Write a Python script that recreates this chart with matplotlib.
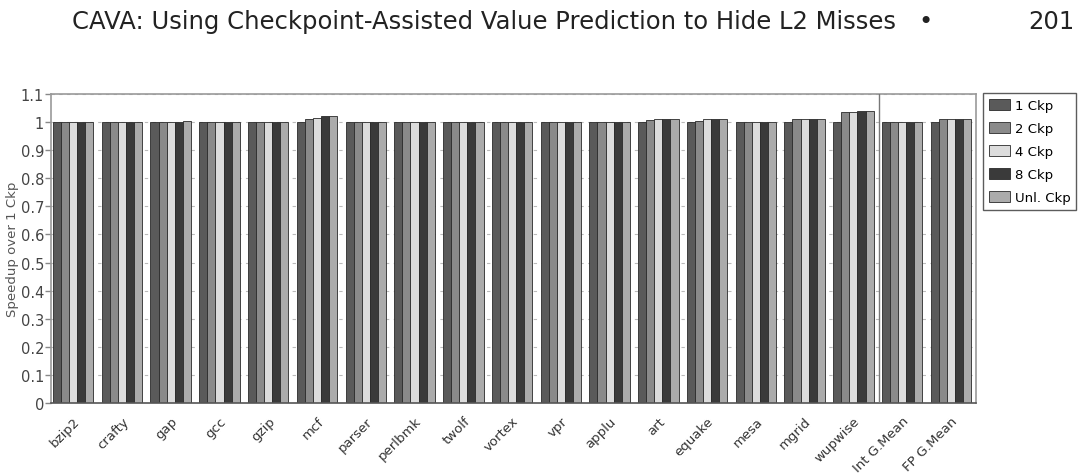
import numpy as np
import matplotlib
matplotlib.use("Agg")
import matplotlib.pyplot as plt

plt.rcParams['font.family'] = ['DejaVu Sans']

benchmarks = ['bzip2', 'crafty', 'gap', 'gcc', 'gzip', 'mcf', 'parser', 'perlbmk',
              'twolf', 'vortex', 'vpr', 'applu', 'art', 'equake', 'mesa', 'mgrid',
              'wupwise', 'Int G.Mean', 'FP G.Mean']
series = ['1 Ckp', '2 Ckp', '4 Ckp', '8 Ckp', 'Unl. Ckp']

ckp1 = [1.0, 1.0, 1.0, 1.0, 1.0, 1.0, 1.0, 1.0, 1.0, 1.0, 1.0, 1.0, 1.0, 1.0, 1.0, 1.0, 1.0, 1.0, 1.0]
ckp2 = [1.0, 1.0, 1.0, 1.0, 1.0, 1.012, 1.001, 1.0, 1.0, 1.0, 1.002, 1.0, 1.008, 1.005, 1.0, 1.012, 1.035, 1.002, 1.01]
ckp4 = [1.0, 1.0, 1.002, 1.0, 1.0, 1.016, 1.0, 1.0, 1.0, 1.0, 1.001, 1.0, 1.01, 1.01, 1.0, 1.012, 1.035, 1.002, 1.01]
ckp8 = [1.0, 1.0, 1.002, 1.0, 1.002, 1.02, 1.0, 1.0, 1.0, 1.0, 1.0, 1.0, 1.01, 1.011, 1.0, 1.012, 1.038, 1.002, 1.01]
ckpU = [1.0, 1.0, 1.003, 1.0, 1.0, 1.02, 1.0, 1.0, 1.0, 1.0, 1.0, 1.0, 1.01, 1.011, 1.0, 1.012, 1.038, 1.002, 1.012]

colors = ['#5a5a5a', '#8a8a8a', '#dcdcdc', '#3a3a3a', '#ababab']

fig = plt.figure(figsize=(10.8, 4.77), dpi=100)
ax = fig.add_axes([51/1080, 1-404/477, 925/1080, 309/477])

x = np.arange(len(benchmarks))
bw = 0.166
for k, vals in enumerate([ckp1, ckp2, ckp4, ckp8, ckpU]):
    ax.bar(x + k*bw, vals, width=bw, align='edge', color=colors[k],
           edgecolor='#2a2a2a', linewidth=0.6, label=series[k], zorder=2)

ax.set_xlim(-0.04, 18.93)
ax.set_ylim(0, 1.1)
ax.set_yticks(np.arange(0, 1.11, 0.1))
ax.set_yticklabels(['0', '0.1', '0.2', '0.3', '0.4', '0.5', '0.6', '0.7', '0.8', '0.9', '1', '1.1'])
ax.yaxis.grid(True, linestyle=(0, (3, 4)), color='#bbbbbb', linewidth=0.8, zorder=0)
ax.set_axisbelow(True)

ax.set_xticks(x + 2.5*bw)
ax.set_xticklabels(benchmarks, rotation=45, ha='right', va='top', rotation_mode='anchor')
ax.tick_params(axis='x', length=0, pad=8, labelsize=9.5, labelcolor='#333333')
ax.tick_params(axis='y', length=4, width=1, color='#888888', labelsize=10.5, labelcolor='#444444', pad=1)

for s in ax.spines.values():
    s.set_color('#999999')
    s.set_linewidth(1.2)
ax.spines['bottom'].set_color('#555555')

ax.axvline(16.94, color='#777777', linewidth=1.0, zorder=3)

ax.set_ylabel('Speedup over 1 Ckp', fontsize=9.5, color='#555555', labelpad=1)

leg = fig.legend(loc='upper left', bbox_to_anchor=(983/1080, 1-94/477), fontsize=9.5,
                 frameon=True, fancybox=False, edgecolor='#333333',
                 handlelength=1.6, handleheight=0.9, borderpad=0.45, labelspacing=0.75,
                 handletextpad=0.35, borderaxespad=0)
leg.get_frame().set_linewidth(1.0)

fig.text(72/1080, 1-22/477, 'CAVA: Using Checkpoint-Assisted Value Prediction to Hide L2 Misses',
         fontsize=17.5, color='#222222', va='center', ha='left')
fig.text(925/1080, 1-22/477, '\u2022', fontsize=17.5, color='#222222', va='center', ha='center')
fig.text(1075/1080, 1-22/477, '201', fontsize=17.5, color='#222222', va='center', ha='right')

fig.savefig('out.png', dpi=100)
